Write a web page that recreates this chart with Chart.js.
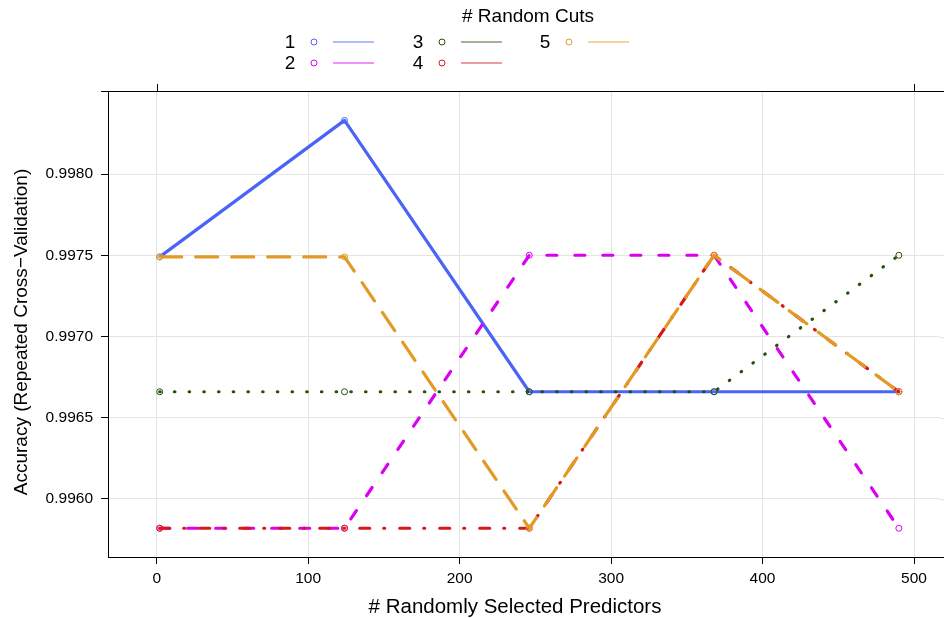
<!DOCTYPE html>
<html>
<head>
<meta charset="utf-8">
<script src="https://cdn.jsdelivr.net/npm/chart.js@4/dist/chart.umd.min.js"></script>
<style>
  html, body { margin: 0; padding: 0; background: #ffffff; }
  #wrap { width: 944px; height: 618px; position: relative; }
</style>
</head>
<body>
<div id="wrap"><canvas id="c" width="944" height="618"></canvas></div>
<script>
// ---- data ----
const predictors = [2, 124, 246, 368, 490];
const cuts1 = [0.99749, 0.99833, 0.99666, 0.99666, 0.99666];
const cuts2 = [0.99582, 0.99582, 0.99750, 0.99750, 0.99582];
const cuts3 = [0.99666, 0.99666, 0.99666, 0.99666, 0.99750];
const cuts4 = [0.99582, 0.99582, 0.99582, 0.99750, 0.99666];
const cuts5 = [0.99749, 0.99749, 0.99582, 0.99750, 0.99666];
const seriesNames = ['1', '2', '3', '4', '5'];
const xTicks = [0, 100, 200, 300, 400, 500];
const yTicks = [0.9960, 0.9965, 0.9970, 0.9975, 0.9980];

const xTitle = '# Randomly Selected Predictors';
const yTitle = 'Accuracy (Repeated Cross\u2212Validation)';
const legendTitle = '# Random Cuts';

// ---- styles ----
const colors = ['#4a64f5', '#dc00f3', '#25500f', '#d6181c', '#e29a24'];
const dashes = [[], [10, 18], [0.5, 14.2], [10, 14, 1, 15], [22, 14]];
const FONT = '"Liberation Sans", Arial, Helvetica, sans-serif';

const allSeries = [cuts1, cuts2, cuts3, cuts4, cuts5];
const datasets = allSeries.map((vals, i) => ({
  label: seriesNames[i],
  data: predictors.map((x, j) => ({ x: x, y: vals[j] })),
  borderColor: colors[i],
  backgroundColor: 'rgba(0,0,0,0)',
  borderWidth: 3.2,
  borderDash: dashes[i],
  borderCapStyle: i === 0 ? 'butt' : 'round',
  borderJoinStyle: 'round',
  pointRadius: 3,
  pointBorderWidth: 1,
  pointBorderColor: colors[i],
  pointBackgroundColor: 'rgba(0,0,0,0)',
  tension: 0,
  order: 5 - i
}));

const decor = {
  id: 'decor',
  beforeDatasetsDraw(chart) {
    // extend horizontal grid lines to the canvas edge
    const ctx = chart.ctx, a = chart.chartArea, ys = chart.scales.y;
    ctx.save();
    ctx.strokeStyle = '#e4e4e4';
    ctx.lineWidth = 1;
    yTicks.forEach(v => {
      const py = Math.round(ys.getPixelForValue(v)) + 0.5;
      ctx.beginPath();
      ctx.moveTo(a.right, py);
      ctx.lineTo(944, py);
      ctx.stroke();
    });
    ctx.restore();
  },
  afterDraw(chart) {
    const ctx = chart.ctx;
    const a = chart.chartArea;
    const xs = chart.scales.x;
    ctx.save();
    ctx.strokeStyle = '#000';
    ctx.lineWidth = 1;
    // top border
    ctx.beginPath();
    ctx.moveTo(a.left, Math.round(a.top) + 0.5);
    ctx.lineTo(944, Math.round(a.top) + 0.5);
    ctx.stroke();
    // bottom border extension
    ctx.beginPath();
    ctx.moveTo(a.right - 2, Math.round(a.bottom) + 0.5);
    ctx.lineTo(944, Math.round(a.bottom) + 0.5);
    ctx.stroke();
    // top ticks at 0 and 500
    [0, 500].forEach(v => {
      const px = Math.round(xs.getPixelForValue(v)) + 0.5;
      ctx.beginPath();
      ctx.moveTo(px, a.top);
      ctx.lineTo(px, a.top - 7);
      ctx.stroke();
    });
    // left tick at top corner
    ctx.beginPath();
    ctx.moveTo(a.left, Math.round(a.top) + 0.5);
    ctx.lineTo(a.left - 7, Math.round(a.top) + 0.5);
    ctx.stroke();

    // axis titles
    ctx.fillStyle = '#000';
    ctx.font = '20.5px ' + FONT;
    ctx.textAlign = 'center';
    ctx.textBaseline = 'middle';
    ctx.fillText(xTitle, 515, 607);
    ctx.save();
    ctx.font = '19px ' + FONT;
    ctx.translate(22, 332);
    ctx.rotate(-Math.PI / 2);
    ctx.fillText(yTitle, 0, 0);
    ctx.restore();

    // legend
    ctx.font = '19px ' + FONT;
    ctx.fillText(legendTitle, 528, 17);
    const cols = [290, 418, 545];
    const rows = [42, 63];
    seriesNames.forEach((name, i) => {
      const c = Math.floor(i / 2), r = i % 2;
      const x0 = cols[c], y0 = rows[r];
      ctx.fillStyle = '#000';
      ctx.font = '19px ' + FONT;
      ctx.textAlign = 'center';
      ctx.fillText(name, x0, y0 + 1);
      ctx.strokeStyle = colors[i];
      ctx.lineWidth = 1;
      ctx.beginPath();
      ctx.arc(x0 + 24, y0, 3, 0, Math.PI * 2);
      ctx.stroke();
      ctx.globalAlpha = 0.85;
      ctx.lineWidth = 1.2;
      ctx.beginPath();
      ctx.moveTo(x0 + 43, y0);
      ctx.lineTo(x0 + 84, y0);
      ctx.stroke();
      ctx.globalAlpha = 1;
    });
    ctx.restore();
  }
};

new Chart(document.getElementById('c'), {
  type: 'line',
  data: { datasets: datasets },
  options: {
    responsive: false,
    animation: false,
    devicePixelRatio: 1,
    layout: { padding: { left: 0, top: 91, right: 0, bottom: 0 } },
    plugins: { legend: { display: false }, tooltip: { enabled: false } },
    scales: {
      x: {
        type: 'linear',
        min: -32.15,
        max: 516.5,
        afterBuildTicks: s => { s.ticks = xTicks.map(v => ({ value: v })); },
        afterFit: s => { s.height = 61; s.paddingLeft = 0; s.paddingRight = 0; },
        ticks: { color: '#000', font: { size: 15.5, family: FONT }, padding: 5, maxRotation: 0,
                 callback: v => String(v) },
        grid: { color: '#e4e4e4', lineWidth: 1, tickLength: 7, tickColor: '#000', drawTicks: true },
        border: { display: true, color: '#000', width: 1 }
      },
      y: {
        type: 'linear',
        min: 0.995643,
        max: 0.998511,
        afterBuildTicks: s => { s.ticks = yTicks.map(v => ({ value: v })); },
        afterFit: s => { s.width = 108; s.paddingTop = 0; s.paddingBottom = 0; },
        ticks: { color: '#000', font: { size: 15.5, family: FONT }, padding: 8,
                 callback: v => Number(v).toFixed(4) },
        grid: { color: '#e4e4e4', lineWidth: 1, tickLength: 7, tickColor: '#000', drawTicks: true },
        border: { display: true, color: '#000', width: 1 }
      }
    }
  },
  plugins: [decor]
});
</script>
</body>
</html>
